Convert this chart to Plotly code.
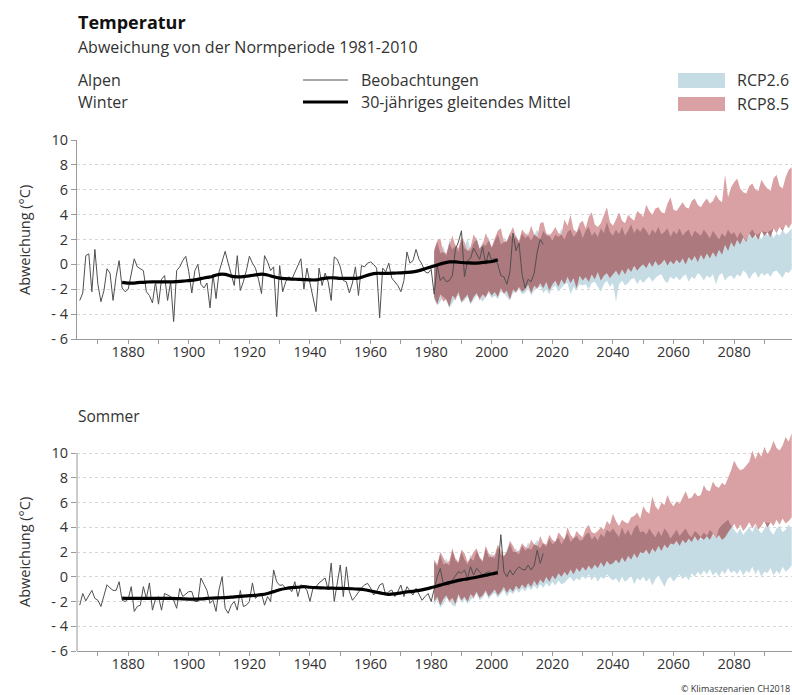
import plotly.graph_objects as go

# ---------------------------------------------------------------- data
OBS_START = 1864

winter_obs = [
    -2.9, -2.3, 0.7, 0.85, -2.2, 1.2, -1.6, -3.0, -2.1, -0.35,
    -0.7, -2.9, -1.0, 0.3, -1.9, -2.2, -2.0, -0.9, 0.45, -0.2,
    -0.35, -0.5, -2.2, -2.5, -3.1, -1.4, -3.2, -1.2, -0.9, -2.9,
    -1.4, -4.6, -0.5, -0.2, 0.3, 0.65, -0.6, -2.3, -0.5, 0.0,
    -1.6, -1.9, -1.5, -3.5, -0.8, -2.75, -0.6, 0.2, 1.05, 0.1,
    -0.8, -1.7, 0.7, -2.1, -1.4, -0.5, 0.65, 0.1, -0.3, -1.2,
    -2.35, 0.7, 0.2, -0.5, -0.2, -4.2, -0.1, -2.2, -1.4, -1.0,
    -1.2, -0.6, 0.0, 0.45, -2.0, -0.3, -1.5, -2.6, -3.8, -0.3,
    -1.7, -0.7, -1.4, -2.9, 0.6, 0.4, -0.2, -1.3, -1.4, -2.3,
    -1.5, -0.2, -2.5, -0.1, -0.2, 0.1, 0.2, 0.0, -0.3, -4.3,
    -0.3, -0.6, 0.1, -1.1, -1.4, -1.7, -2.2, -1.3, 1.0, 0.1,
    0.3, 1.2, 0.4, 0.0, -0.6, -0.7, -0.4, -2.4, -0.1, -1.3,
    -1.0, -1.4, -1.3, -0.9, 1.2, 1.8, 2.7, -1.0, 0.3, 0.5,
    1.3, 0.8, 0.4, 1.4, 0.0, 1.0, 0.3, 0.5, 0.0, -0.9,
    -1.0, -1.6, -0.6, 2.5, 1.1, 1.7, -0.8, -1.9, -1.2, -1.4,
    -0.7, 1.0, 2.0, 1.6,
]

summer_obs = [
    -2.3, -1.35, -1.95, -1.5, -1.1, -1.75, -1.9, -2.4, -1.5, -0.65,
    -0.9, -1.1, -1.1, -0.4, -1.9, -2.0, -1.8, -0.8, -2.8, -2.4,
    -2.3, -0.8, -1.75, -0.5, -2.7, -1.8, -1.6, -2.7, -1.35, -1.5,
    -1.6, -1.9, -2.55, -0.95, -1.6, -1.4, -1.2, -1.2, -2.0, -2.0,
    -0.1, -0.6, -1.1, -2.15, -1.9, -2.8, -1.0, 0.0, -2.55, -2.95,
    -2.3, -2.0, -2.7, -1.1, -2.4, -2.3, -2.0, -0.5, -1.75, -1.5,
    -1.35, -2.3, -1.6, -2.0, 0.55, -0.4, -0.7, -0.65, -0.95, -0.9,
    -1.2, -0.4, -1.6, -0.65, -0.8, -1.1, -2.0, -0.9, -0.8, -0.5,
    -0.3, -0.1, -1.06, 1.1, -2.0, -0.5, 0.95, -1.6, 0.8, -1.2,
    -1.9, -1.6, -1.2, -0.9, -0.67, -0.53, -0.9, -1.47, -1.2, -0.67,
    -0.53, -1.47, -1.2, -1.07, -1.6, -1.2, -0.67, -1.6, -0.8, -1.1,
    -1.47, -0.94, -1.4, -1.9, -1.6, -1.35, -2.0, -0.9, 0.0, 0.67,
    -0.53, -0.6, -0.67, -0.27, 0.1, 0.41, 0.3, 0.54, -0.13, 0.82,
    0.14, 0.68, 0.4, 0.14, 0.3, 0.41, 0.27, 0.3, 0.54, 3.4,
    0.41, 0.0, 0.54, 0.14, 0.54, 0.82, 0.6, 0.54, 0.95, 0.54,
    0.9, 2.15, 1.08, 1.89,
]

# 30-year running mean, one value every second year 1878-2002
MEAN_START, MEAN_STEP = 1878, 2
winter_mean = [
    -1.45, -1.5, -1.5, -1.45, -1.42, -1.4, -1.4, -1.4, -1.4, -1.38,
    -1.35, -1.3, -1.25, -1.15, -1.05, -0.95, -0.8, -0.8, -0.95, -1.0,
    -0.98, -0.92, -0.85, -0.78, -0.85, -1.0, -1.1, -1.15, -1.18, -1.2,
    -1.22, -1.25, -1.25, -1.15, -1.08, -1.08, -1.12, -1.12, -1.12, -1.1,
    -0.95, -0.8, -0.72, -0.72, -0.72, -0.7, -0.68, -0.65, -0.6, -0.5,
    -0.35, -0.2, -0.05, 0.1, 0.2, 0.2, 0.15, 0.12, 0.1, 0.12,
    0.18, 0.23, 0.38,
]
summer_mean = [
    -1.72, -1.75, -1.75, -1.75, -1.75, -1.75, -1.75, -1.75, -1.75, -1.76,
    -1.78, -1.8, -1.8, -1.78, -1.75, -1.72, -1.7, -1.68, -1.65, -1.6,
    -1.56, -1.53, -1.5, -1.45, -1.35, -1.2, -1.05, -0.95, -0.88, -0.85,
    -0.8, -0.85, -0.88, -0.9, -0.92, -0.93, -0.94, -0.95, -0.97, -1.0,
    -1.05, -1.15, -1.25, -1.35, -1.42, -1.38, -1.3, -1.22, -1.18, -1.1,
    -1.0, -0.88, -0.75, -0.6, -0.47, -0.35, -0.25, -0.17, -0.08, 0.02,
    0.12, 0.22, 0.33,
]

# Scenario ranges 1981-2099
SCEN_START = 1981
winter_rcp26_lo = [
    -2.8, -3.3, -3.0, -2.6, -2.9, -3.5, -3.1, -2.7, -2.5, -3.1,
    -2.9, -2.6, -3.2, -2.8, -2.5, -2.7, -3.0, -2.6, -2.3, -2.7,
    -2.5, -2.8, -2.2, -2.3, -2.6, -2.9, -2.3, -2.2, -2.0, -2.4,
    -2.3, -1.9, -2.5, -2.1, -1.9, -1.8, -2.3, -2.0, -2.4, -1.9,
    -1.7, -2.2, -1.9, -1.6, -1.5, -2.4, -1.8, -2.1, -1.6, -1.7,
    -1.6, -2.0, -1.5, -1.4, -1.8, -2.2, -1.6, -1.3, -1.8, -1.5,
    -3.0, -1.6, -1.3, -1.7, -1.5, -1.2, -1.1, -1.6, -1.2, -1.5,
    -1.2, -1.0, -1.4, -1.1, -0.9, -0.8, -1.3, -1.5, -1.0, -1.2,
    -1.0, -1.3, -1.0, -0.8, -1.4, -1.0, -1.2, -0.7, -0.9, -1.3,
    -0.9, -1.1, -0.8, -1.6, -0.9, -0.7, -1.3, -1.0, -0.9, -1.2,
    -0.8, -1.0, -0.5, -0.7, -1.2, -0.8, -0.6, -1.1, -0.7, -0.9,
    -0.7, -1.0, -0.6, -0.5, -0.8, -1.1, -0.6, -0.7, -0.4,
]
winter_rcp26_hi = [
    1.0, 1.8, 0.9, 1.5, 0.7, 2.0, 1.2, 1.6, 1.0, 2.0,
    1.3, 2.1, 1.1, 1.7, 2.2, 1.2, 1.8, 1.5, 2.2, 1.3,
    1.9, 2.4, 1.6, 2.2, 1.8, 2.6, 2.0, 2.4, 1.7, 2.5,
    2.1, 2.6, 1.9, 2.4, 2.8, 2.0, 2.7, 2.3, 2.5, 1.9,
    2.4, 2.2, 2.9, 2.0, 2.6, 2.8, 2.2, 2.5, 2.9, 2.1,
    2.7, 3.0, 2.3, 2.6, 2.2, 2.9, 2.5, 3.4, 2.6, 2.3,
    2.8, 2.4, 3.0, 2.3, 2.7, 3.2, 2.5, 2.9, 2.6, 3.0,
    2.7, 2.3, 2.8, 2.5, 3.0, 2.4, 2.6, 2.9, 2.2, 2.7,
    2.4, 2.9, 2.3, 2.6, 2.8, 2.2, 2.7, 2.5, 2.3, 2.8,
    2.4, 2.1, 2.7, 2.3, 2.0, 2.5, 2.2, 2.8, 2.4, 2.6,
    2.1, 2.6, 2.2, 1.9, 2.5, 2.8, 2.2, 2.4, 2.0, 2.6,
    2.3, 2.7, 2.1, 2.5, 2.3, 2.8, 2.4, 2.6, 2.9,
]
winter_rcp85_lo = [
    -2.6, -3.2, -2.4, -3.0, -2.8, -3.4, -2.5, -2.9, -2.2, -3.0,
    -2.7, -2.4, -3.1, -2.6, -2.3, -2.9, -2.4, -2.7, -2.1, -2.5,
    -2.2, -2.6, -1.9, -2.4, -2.1, -2.8, -2.0, -2.3, -1.8, -2.2,
    -2.0, -1.6, -2.3, -1.7, -2.0, -1.5, -1.9, -1.4, -2.1, -1.6,
    -1.3, -1.8, -1.2, -1.6, -1.0, -1.5, -1.1, -1.9, -0.9, -1.3,
    -1.0, -1.4, -0.8, -1.2, -0.6, -1.3, -0.9, -0.7, -1.1, -0.8,
    -0.5, -0.9, -0.4, -0.8, -0.3, -0.6, -0.1, -0.5, -0.2, 0.0,
    -0.3, 0.2, -0.2, 0.3, -0.1, 0.1, 0.4, -0.1, 0.3, 0.0,
    0.4, 0.1, 0.5, 0.0, 0.6, 0.3, 0.7, 0.2, 0.8, 0.4,
    0.9, 0.5, 1.0, 0.6, 1.2, 0.8, 1.6, 1.1, 1.8, 1.4,
    2.0, 1.6, 2.2, 1.8, 2.5, 2.1, 2.4, 2.0, 2.7, 2.3,
    2.6, 2.2, 2.9, 2.5, 3.0, 2.7, 3.2, 2.9, 3.3,
]
winter_rcp85_hi = [
    1.2, 1.9, 2.1, 1.0, 0.9, 1.7, 2.3, 1.5, 1.3, 2.2,
    1.8, 1.1, 1.4, 2.4, 2.0, 1.3, 1.6, 2.5, 1.9, 1.4,
    2.1, 2.7, 2.9, 1.8, 1.9, 2.4, 3.0, 2.2, 1.9, 2.8,
    2.5, 2.3, 3.1, 2.4, 2.2, 3.3, 3.4, 2.5, 2.3, 2.6,
    3.0, 2.5, 2.4, 3.6, 3.1, 4.0, 2.8, 2.6, 3.3, 3.5,
    2.9, 3.8, 4.2, 3.2, 3.0, 3.3, 4.0, 4.6, 3.4, 3.1,
    3.6, 4.2, 3.5, 3.3, 4.0, 3.7, 3.5, 4.3, 4.1, 3.8,
    4.8, 4.3, 4.0, 4.5, 4.6, 4.2, 4.1, 4.9, 5.4, 4.4,
    4.3, 4.7, 5.0, 4.6, 4.5, 5.1, 5.3, 4.8, 4.6, 5.0,
    5.3, 4.9, 5.1, 5.6, 5.2, 5.0, 7.2, 5.4, 6.2, 6.6,
    6.9, 6.1, 5.8, 5.7, 6.3, 6.5, 6.0, 5.9, 6.8, 6.4,
    6.1, 5.9, 6.9, 7.2, 6.3, 6.1, 7.0, 7.6, 7.8,
]

summer_rcp26_lo = [
    -2.3, -1.8, -2.5, -2.2, -1.7, -1.9, -2.3, -2.4, -1.6, -2.1,
    -1.8, -2.2, -1.9, -1.6, -1.4, -1.9, -1.7, -1.3, -1.8, -1.5,
    -1.3, -1.7, -1.4, -1.1, -1.6, -1.2, -1.4, -1.0, -1.3, -0.9,
    -1.2, -0.8, -1.1, -0.7, -1.0, -0.6, -0.9, -0.5, -0.8, -0.4,
    -0.7, -0.3, -0.6, -0.5, -0.2, 0.0, -0.4, -0.1, -0.3, 0.1,
    -0.2, 0.2, -0.3, 0.1, -0.4, 0.0, -0.2, 0.2, -0.1, -0.3,
    -0.1, -0.5, 0.0, -0.4, -0.2, 0.1, -0.6, -0.1, -0.3, 0.0,
    -0.4, -0.1, -0.7, -0.2, 0.1, -0.3, -0.8, -0.2, 0.0, -0.4,
    -0.1, 0.2, -0.2, 0.1, -0.3, 0.3, 0.0, 0.4, 0.1, 0.5,
    0.2, 0.6, 0.1, 0.4, 0.0, 0.5, 0.2, 0.7, 0.3, 0.5,
    0.2, 0.6, 0.1, 0.5, 0.3, 0.8, 0.2, 0.6, 0.0, 0.4,
    0.3, 0.7, 0.1, 0.5, 0.2, 0.8, 0.4, 0.6, 0.9,
]
summer_rcp26_hi = [
    1.2, 0.8, 1.8, 1.0, 1.5, 0.9, 2.1, 1.3, 1.1, 2.0,
    1.4, 1.0, 1.8, 1.3, 2.1, 1.5, 1.2, 2.3, 1.6, 1.9,
    1.5, 2.4, 1.8, 1.6, 2.2, 2.7, 2.0, 2.3, 1.8, 2.5,
    2.1, 2.8, 2.2, 2.6, 3.0, 2.3, 2.7, 2.4, 3.1, 2.6,
    2.9, 3.2, 2.6, 3.0, 3.5, 2.8, 3.1, 3.3, 2.9, 3.0,
    3.4, 3.6, 3.0, 3.3, 2.9, 3.5, 3.2, 3.8, 3.6, 3.9,
    3.5, 3.2, 4.0, 3.4, 3.8, 3.3, 3.9, 4.2, 3.6, 3.7,
    3.4, 3.9, 3.5, 3.2, 3.7, 3.3, 3.9, 3.6, 3.1, 3.5,
    3.8, 3.3, 3.6, 3.9, 3.4, 3.2, 3.7, 3.5, 3.0, 3.6,
    3.3, 3.8, 3.5, 3.1, 3.9, 4.2, 4.4, 4.6, 4.1, 3.8,
    3.5, 3.9, 3.4, 3.7, 4.0, 3.6, 4.2, 3.8, 3.5, 3.9,
    4.3, 3.7, 3.4, 3.9, 4.1, 3.6, 3.8, 4.2, 3.9,
]
summer_rcp85_lo = [
    -2.0, -1.6, -2.3, -1.8, -1.5, -2.1, -1.7, -2.2, -1.4, -1.9,
    -1.6, -2.0, -1.4, -1.8, -1.2, -1.7, -1.5, -1.1, -1.6, -1.3,
    -1.0, -1.5, -1.2, -0.8, -1.3, -0.9, -1.2, -0.7, -1.0, -0.6,
    -0.9, -0.5, -0.8, -0.3, -0.7, -0.2, -0.5, 0.0, -0.4, 0.1,
    -0.2, 0.3, 0.0, 0.4, 0.1, 0.6, 0.2, 0.7, 0.4, 0.8,
    0.5, 0.9, 0.6, 1.0, 0.7, 1.2, 0.8, 1.3, 1.0, 1.1,
    1.4, 1.1, 1.6, 1.2, 1.7, 1.4, 1.9, 1.5, 2.0, 1.9,
    2.2, 1.8, 2.3, 2.0, 2.5, 2.1, 2.6, 2.3, 2.7, 2.6,
    2.9, 2.5, 3.0, 2.7, 3.1, 2.8, 3.3, 2.9, 3.2, 3.0,
    3.3, 3.0, 3.5, 3.1, 3.4, 3.0, 3.2, 3.6, 4.0, 4.3,
    3.8, 4.2, 3.7, 4.0, 4.4, 3.9, 4.3, 3.8, 4.1, 4.5,
    4.0, 4.4, 4.1, 4.6, 4.2, 4.7, 4.3, 4.5, 4.8,
]
summer_rcp85_hi = [
    1.4, 1.0, 2.0, 1.6, 1.1, 1.3, 2.3, 1.5, 1.2, 2.2,
    1.9, 1.2, 1.5, 2.0, 2.3, 1.6, 1.3, 2.5, 1.9, 1.6,
    1.8, 2.6, 2.2, 1.7, 2.0, 2.9, 2.5, 2.0, 2.1, 2.7,
    2.4, 2.3, 3.0, 2.6, 2.5, 3.3, 2.7, 2.6, 3.4, 3.0,
    2.8, 3.6, 3.3, 3.0, 4.0, 3.4, 3.1, 3.7, 3.4, 3.2,
    3.9, 4.2, 3.6, 3.5, 3.7, 4.0, 3.8, 4.5, 4.2, 5.1,
    4.5, 4.1, 4.6, 4.4, 4.3, 4.8, 4.9, 5.2, 4.7, 5.7,
    5.3, 5.1, 6.5, 5.7, 5.4, 6.0, 5.8, 6.6, 6.0, 5.7,
    6.1, 5.9, 6.4, 6.9, 6.3, 6.4, 6.8, 6.5, 6.6, 7.4,
    7.0, 6.9, 7.7, 7.3, 7.2, 7.6, 7.4, 8.0, 8.6, 9.4,
    8.9, 8.6, 8.7, 9.0, 9.3, 10.2, 9.5, 10.1, 9.7, 10.5,
    9.9, 10.3, 11.0, 10.4, 10.2, 10.6, 11.3, 10.9, 11.6,
]

x_tick_vals = [1880, 1900, 1920, 1940, 1960, 1980, 2000, 2020, 2040, 2060, 2080]
y_tick_vals = [-6, -4, -2, 0, 2, 4, 6, 8, 10]
y_tick_text = ["- 6", "- 4", "- 2", "0", "2", "4", "6", "8", "10"]

# ---------------------------------------------------------------- style
W, H = 792, 695
FONT = "Open Sans"
TEXT = "#333333"
AXIS = "#9a9a9a"
BLUE = "rgb(197,220,228)"
RED = "rgb(217,161,163)"
BOTH = "rgb(172,121,126)"


def px(x):
    return x / W


def py(y):
    return 1 - y / H


def years(start, n, step=1):
    return [start + i * step for i in range(n)]


fig = go.Figure()


def add_panel(xa, ya, obs, mean, lo26, hi26, lo85, hi85):
    scen_x = years(SCEN_START, len(lo26))
    # range where both scenarios overlap, drawn darker
    both_lo = [max(a, b) for a, b in zip(lo26, lo85)]
    both_hi = [max(min(a, b), lo) for a, b, lo in zip(hi26, hi85, both_lo)]
    for lo, hi, col in [(lo26, hi26, BLUE), (lo85, hi85, RED), (both_lo, both_hi, BOTH)]:
        fig.add_trace(go.Scatter(x=scen_x, y=lo, mode="lines", line=dict(width=0),
                                 xaxis=xa, yaxis=ya, showlegend=False, hoverinfo="skip"))
        fig.add_trace(go.Scatter(x=scen_x, y=hi, mode="lines", line=dict(width=0),
                                 fill="tonexty", fillcolor=col,
                                 xaxis=xa, yaxis=ya, showlegend=False, hoverinfo="skip"))
    fig.add_trace(go.Scatter(x=years(OBS_START, len(obs)), y=obs, mode="lines",
                             line=dict(color="#505050", width=1),
                             xaxis=xa, yaxis=ya, showlegend=False))
    fig.add_trace(go.Scatter(x=years(MEAN_START, len(mean), MEAN_STEP), y=mean, mode="lines",
                             line=dict(color="#000000", width=3.2, shape="spline"),
                             xaxis=xa, yaxis=ya, showlegend=False))


add_panel("x", "y", winter_obs, winter_mean,
          winter_rcp26_lo, winter_rcp26_hi, winter_rcp85_lo, winter_rcp85_hi)
add_panel("x2", "y2", summer_obs, summer_mean,
          summer_rcp26_lo, summer_rcp26_hi, summer_rcp85_lo, summer_rcp85_hi)

tickfont = dict(family=FONT, size=14.5, color=TEXT)
xaxis_style = dict(
    domain=[px(77), 1.0], range=[1863.1, 2099.1],
    tickvals=x_tick_vals, ticks="outside", ticklen=4, tickcolor=AXIS,
    ticklabelstandoff=-4,
    minor=dict(dtick=10, tick0=1870, ticks="outside", ticklen=4, tickcolor=AXIS, showgrid=False),
    showline=True, linecolor=AXIS, linewidth=1, showgrid=False, zeroline=False,
    tickfont=tickfont, automargin=False, fixedrange=True,
)
yaxis_style = dict(
    tickvals=y_tick_vals, ticktext=y_tick_text, ticks="outside", ticklen=5, tickcolor=AXIS,
    showgrid=True, gridcolor="#d6d6d6", gridwidth=1, griddash="dot", zeroline=False,
    linecolor=AXIS, linewidth=1, tickfont=tickfont, automargin=False, fixedrange=True,
)

fig.update_layout(
    width=W, height=H,
    margin=dict(l=0, r=0, t=0, b=0),
    paper_bgcolor="white", plot_bgcolor="white",
    showlegend=False,
    font=dict(family=FONT, color=TEXT),
    xaxis=dict(xaxis_style, anchor="y"),
    yaxis=dict(yaxis_style, anchor="x", domain=[py(339), py(140)], range=[-6, 10], showline=True),
    xaxis2=dict(xaxis_style, anchor="y2"),
    # extra head-room above 10 so the RCP8.5 range can rise past the top tick
    yaxis2=dict(yaxis_style, anchor="x2", domain=[py(651), py(428.25)], range=[-6, 12], showline=False),
)

# left spine of the lower panel, ending at the top tick
fig.add_shape(type="line", xref="x2 domain", yref="y2", x0=0, x1=0, y0=-6, y1=10,
              line=dict(color=AXIS, width=1))


def label(text, x, y, size=15, bold=False, color=TEXT, xanchor="left", angle=0):
    fig.add_annotation(text=f"<b>{text}</b>" if bold else text,
                       x=px(x), y=py(y), xref="paper", yref="paper",
                       xanchor=xanchor, yanchor="middle", showarrow=False, textangle=angle,
                       font=dict(family=FONT, size=size, color=color))


label("Temperatur", 76, 22, size=18, bold=True, color="#111111")
label("Abweichung von der Normperiode 1981-2010", 76, 47, size=16)
label("Alpen", 76, 80, size=16)
label("Winter", 76, 102, size=16)
label("Sommer", 76, 416, size=15.5)
label("Abweichung (°C)", 24, 240, size=14.5, xanchor="center", angle=-90)
label("Abweichung (°C)", 24, 552, size=14.5, xanchor="center", angle=-90)
label("© Klimaszenarien CH2018", 679, 688, size=9)

# legend
fig.add_shape(type="line", xref="paper", yref="paper", x0=px(303), x1=px(348), y0=py(80), y1=py(80),
              line=dict(color="#505050", width=1))
fig.add_shape(type="line", xref="paper", yref="paper", x0=px(303), x1=px(348), y0=py(102), y1=py(102),
              line=dict(color="#000000", width=3.2))
label("Beobachtungen", 359, 80, size=16)
label("30-jähriges gleitendes Mittel", 359, 102, size=16)
fig.add_shape(type="rect", xref="paper", yref="paper", x0=px(678), x1=px(725), y0=py(88), y1=py(73),
              fillcolor=BLUE, line=dict(width=0))
fig.add_shape(type="rect", xref="paper", yref="paper", x0=px(678), x1=px(725), y0=py(111), y1=py(97),
              fillcolor=RED, line=dict(width=0))
label("RCP2.6", 735, 80, size=16)
label("RCP8.5", 735, 104, size=16)

fig.write_html("out.html")
